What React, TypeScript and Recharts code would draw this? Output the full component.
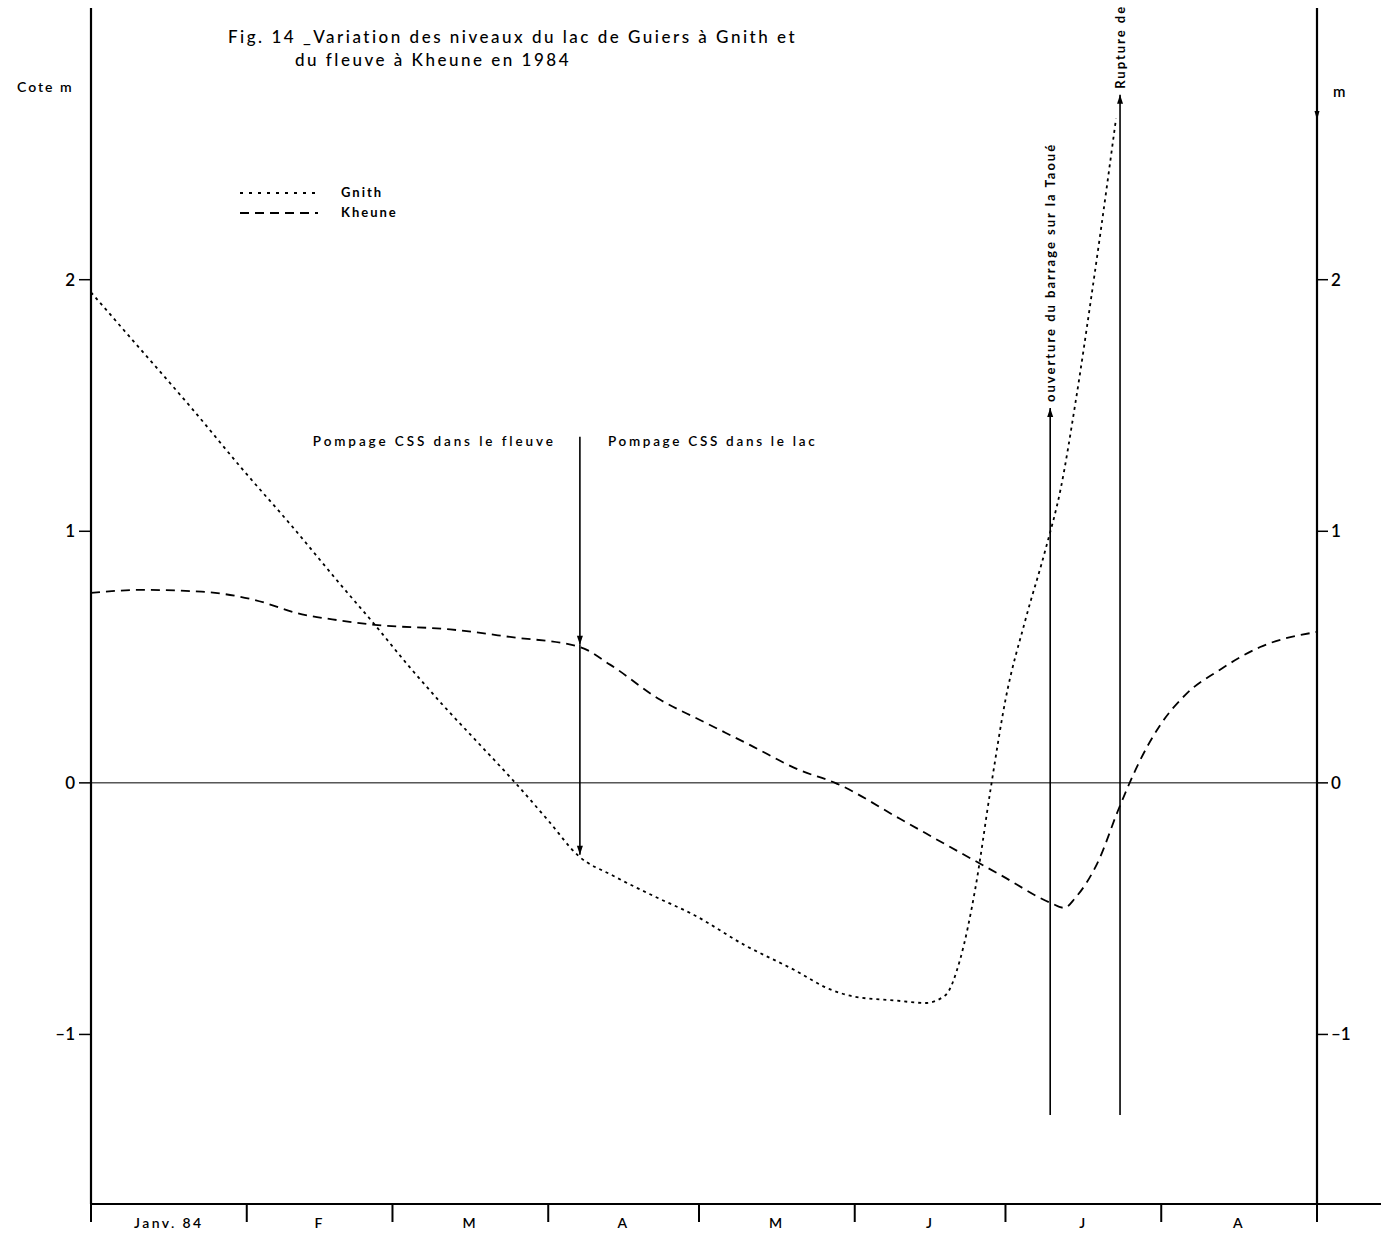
import React from 'react';
import { LineChart, Line, XAxis, YAxis, ReferenceLine, ReferenceDot } from 'recharts';

const FONT = 'Lato, "DejaVu Sans", sans-serif';

const monthLabels = ['Janv. 84', 'F', 'M', 'A', 'M', 'J', 'J', 'A'];
const monthStartDays = [0, 31, 60, 91, 121, 152, 182, 213, 244];
const levelTicks = [-1, 0, 1, 2];

const gnithDays = [0, 10, 20, 30, 40, 50, 56, 63, 70, 77, 84, 91, 97, 104, 112, 120, 130, 140, 147, 152, 160, 166, 170, 173, 176, 179, 182, 186, 190, 193, 196, 199, 201, 204];
const gnithLevels = [1.95, 1.72, 1.49, 1.25, 1.02, 0.78, 0.64, 0.47, 0.31, 0.16, 0.01, -0.15, -0.29, -0.37, -0.45, -0.525, -0.644, -0.744, -0.82, -0.85, -0.865, -0.875, -0.845, -0.7, -0.42, -0.03, 0.33, 0.65, 0.93, 1.17, 1.52, 1.92, 2.2, 2.64];

const kheuneDays = [0, 10, 22, 32, 42, 48, 56.5, 71.5, 83.4, 97.3, 103.3, 113.3, 121.2, 131.2, 141.1, 148.1, 161, 171, 181, 191, 193.7, 195.9, 200.6, 204.4, 208.8, 212.8, 217.8, 224.7, 232.7, 244];
const kheuneLevels = [0.755, 0.767, 0.76, 0.73, 0.67, 0.65, 0.628, 0.61, 0.58, 0.54, 0.47, 0.33, 0.25, 0.15, 0.05, 0, -0.143, -0.255, -0.366, -0.477, -0.497, -0.457, -0.306, -0.11, 0.09, 0.23, 0.35, 0.45, 0.54, 0.6];

const pumpingDay = 97.3;
const ouvertureDay = 190.9;
const ruptureDay = 204.8;

const gnithData = gnithDays.map((d, i) => ({ day: d, level: gnithLevels[i] }));
const kheuneData = kheuneDays.map((d, i) => ({ day: d, level: kheuneLevels[i] }));
const monthMidDays = monthLabels.map((_, i) => (monthStartDays[i] + monthStartDays[i + 1]) / 2);
const xTicks = [...monthStartDays, ...monthMidDays];

const fmtLevel = (v: number) => (v < 0 ? '–' + Math.abs(v) : String(v));

const XTick = (p: any) => {
  const { x, y, payload } = p;
  const v = payload.value;
  const si = monthStartDays.indexOf(v);
  if (si >= 0) {
    return <line x1={x} y1={y} x2={x} y2={y + 18} stroke="#000" strokeWidth={2} />;
  }
  const mi = monthMidDays.indexOf(v);
  return (
    <text x={x} y={y + 24} textAnchor="middle" fontFamily={FONT} fontSize={14} fontWeight={600} letterSpacing={2.4} fill="#000">
      {monthLabels[mi]}
    </text>
  );
};

const arrowShape = (p: any) => {
  const { x1, y1, x2, y2 } = p;
  const dx = x2 - x1;
  const dy = y2 - y1;
  const len = Math.hypot(dx, dy) || 1;
  const ux = dx / len;
  const uy = dy / len;
  const L = 9;
  const W = 3;
  const bx = x2 - ux * L;
  const by = y2 - uy * L;
  return (
    <g>
      <line x1={x1} y1={y1} x2={x2} y2={y2} stroke="#000" strokeWidth={1.6} />
      <polygon points={`${x2},${y2} ${bx - uy * W},${by + ux * W} ${bx + uy * W},${by - ux * W}`} fill="#000" />
    </g>
  );
};

const pumpingLabels = (p: any) => (
  <g>
    <text x={p.cx - 24} y={p.cy + 9} textAnchor="end" fontFamily={FONT} fontSize={13.5} fontWeight={600} letterSpacing={2.9} fill="#000">
      Pompage CSS dans le fleuve
    </text>
    <text x={p.cx + 28} y={p.cy + 9} textAnchor="start" fontFamily={FONT} fontSize={13.5} fontWeight={600} letterSpacing={2.7} fill="#000">
      Pompage CSS dans le lac
    </text>
  </g>
);

const verticalLabel = (txt: string) => (p: any) => (
  <text
    x={p.cx + 5}
    y={p.cy - 6}
    transform={`rotate(-90 ${p.cx + 5} ${p.cy - 6})`}
    textAnchor="start"
    fontFamily={FONT}
    fontSize={13}
    fontWeight={700}
    letterSpacing={2}
    fill="#000"
  >
    {txt}
  </text>
);

export default function App() {
  return (
    <div style={{ position: 'absolute', left: 0, top: 0, width: 1381, height: 1235, background: '#fff' }}>
      <LineChart width={1381} height={1235} margin={{ top: 8, right: 0, bottom: 0, left: 0 }}>
        <XAxis
          type="number"
          dataKey="day"
          domain={[0, 244]}
          ticks={xTicks}
          interval={0}
          tick={<XTick />}
          tickLine={false}
          tickSize={0}
          tickMargin={0}
          height={31}
          axisLine={{ stroke: '#000', strokeWidth: 2.2 }}
          allowDataOverflow
        />
        <YAxis
          yAxisId="left"
          orientation="left"
          type="number"
          domain={[-1.674, 3.08]}
          ticks={levelTicks}
          width={91}
          tickSize={12}
          tickMargin={4}
          tickFormatter={fmtLevel}
          tick={{ fontFamily: FONT, fontSize: 17, fontWeight: 600, fill: '#000' }}
          tickLine={{ stroke: '#000', strokeWidth: 1.5 }}
          axisLine={{ stroke: '#000', strokeWidth: 2.2 }}
          allowDataOverflow
        />
        <YAxis
          yAxisId="right"
          orientation="right"
          type="number"
          domain={[-1.674, 3.08]}
          ticks={levelTicks}
          width={64}
          tickSize={11}
          tickMargin={3}
          tickFormatter={fmtLevel}
          tick={{ fontFamily: FONT, fontSize: 17, fontWeight: 600, fill: '#000', textAnchor: 'start' }}
          tickLine={{ stroke: '#000', strokeWidth: 1.5 }}
          axisLine={{ stroke: '#000', strokeWidth: 2.2 }}
          allowDataOverflow
        />
        <ReferenceLine yAxisId="left" y={0} stroke="#000" strokeWidth={1} />
        <Line
          yAxisId="left"
          data={gnithData}
          dataKey="level"
          type="monotone"
          stroke="#000"
          strokeWidth={1.8}
          strokeDasharray="3 4"
          dot={false}
          isAnimationActive={false}
        />
        <Line
          yAxisId="left"
          data={kheuneData}
          dataKey="level"
          type="monotone"
          stroke="#000"
          strokeWidth={1.8}
          strokeDasharray="9 6"
          dot={false}
          isAnimationActive={false}
        />
        <ReferenceLine
          yAxisId="left"
          segment={[{ x: pumpingDay, y: 1.376 }, { x: pumpingDay, y: 0.549 }]}
          shape={arrowShape}
        />
        <ReferenceLine
          yAxisId="left"
          segment={[{ x: pumpingDay, y: 0.549 }, { x: pumpingDay, y: -0.286 }]}
          shape={arrowShape}
        />
        <ReferenceLine
          yAxisId="left"
          segment={[{ x: ouvertureDay, y: -1.32 }, { x: ouvertureDay, y: 1.49 }]}
          shape={arrowShape}
        />
        <ReferenceLine
          yAxisId="left"
          segment={[{ x: ruptureDay, y: -1.32 }, { x: ruptureDay, y: 2.735 }]}
          shape={arrowShape}
        />
        <ReferenceDot yAxisId="left" x={pumpingDay} y={1.376} r={0} shape={pumpingLabels} />
        <ReferenceDot yAxisId="left" x={ouvertureDay} y={1.49} r={0} shape={verticalLabel('ouverture du barrage sur la Taoué')} />
        <ReferenceDot yAxisId="left" x={ruptureDay} y={2.735} r={0} shape={verticalLabel('Rupture de')} />
      </LineChart>
      <svg width={1381} height={1235} style={{ position: 'absolute', left: 0, top: 0, pointerEvents: 'none' }}>
        <text x={228} y={43} fontFamily={FONT} fontSize={17} fontWeight={500} letterSpacing={2.5} fill="#000">
          Fig. 14 _Variation des niveaux du lac de Guiers à Gnith et
        </text>
        <text x={295} y={66} fontFamily={FONT} fontSize={17} fontWeight={500} letterSpacing={2.5} fill="#000">
          du fleuve à Kheune en 1984
        </text>
        <text x={17} y={92} fontFamily={FONT} fontSize={14} fontWeight={600} letterSpacing={2} fill="#000">
          Cote m
        </text>
        <text x={1333} y={97} fontFamily={FONT} fontSize={15} fontWeight={600} fill="#000">
          m
        </text>
        <line x1={240} y1={193} x2={318} y2={193} stroke="#000" strokeWidth={1.8} strokeDasharray="3 6" />
        <text x={341} y={197} fontFamily={FONT} fontSize={13} fontWeight={700} letterSpacing={2} fill="#000">
          Gnith
        </text>
        <line x1={240} y1={213} x2={318} y2={213} stroke="#000" strokeWidth={1.8} strokeDasharray="9 6" />
        <text x={341} y={217} fontFamily={FONT} fontSize={13} fontWeight={700} letterSpacing={2} fill="#000">
          Kheune
        </text>
        <line x1={1317} y1={1204} x2={1381} y2={1204} stroke="#000" strokeWidth={1.8} />
        <polygon points="1317,120 1314.5,111 1319.5,111" fill="#000" />
      </svg>
    </div>
  );
}
